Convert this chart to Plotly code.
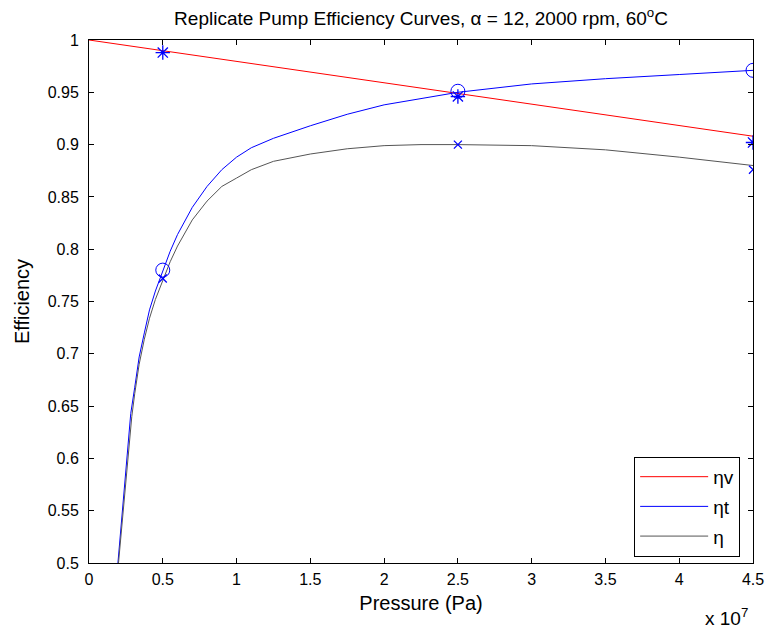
import plotly.graph_objects as go

# Model curves
pressure_t = [0.196e7, 0.283e7, 0.31e7, 0.34e7, 0.375e7, 0.41e7, 0.45e7, 0.5e7,
              0.55e7, 0.6e7, 0.7e7, 0.8e7, 0.9e7, 1.0e7, 1.1e7, 1.25e7, 1.5e7,
              1.75e7, 2.0e7, 2.25e7, 2.5e7, 3.0e7, 3.5e7, 4.0e7, 4.5e7]
eta_t_curve = [0.500, 0.643, 0.668, 0.697, 0.720, 0.742, 0.760, 0.780,
               0.798, 0.814, 0.840, 0.860, 0.876, 0.888, 0.897, 0.906, 0.918,
               0.929, 0.938, 0.944, 0.950, 0.958, 0.963, 0.967, 0.971]
pressure_e = [0.200e7, 0.290e7, 0.31e7, 0.34e7, 0.375e7, 0.41e7, 0.45e7, 0.5e7,
              0.55e7, 0.6e7, 0.7e7, 0.8e7, 0.9e7, 1.0e7, 1.1e7, 1.25e7, 1.5e7,
              1.75e7, 2.0e7, 2.25e7, 2.5e7, 3.0e7, 3.5e7, 4.0e7, 4.5e7]
eta_curve = [0.500, 0.640, 0.662, 0.690, 0.714, 0.734, 0.752, 0.770,
             0.788, 0.803, 0.828, 0.846, 0.860, 0.868, 0.876, 0.884, 0.891,
             0.896, 0.899, 0.900, 0.900, 0.899, 0.895, 0.888, 0.880]
pressure_v = [0.0, 4.5e7]
eta_v_curve = [1.000, 0.908]

# Measured points
pressure_meas = [0.5e7, 2.5e7, 4.5e7]
eta_t_meas = [0.780, 0.951, 0.971]
eta_v_meas = [0.988, 0.946, 0.902]
eta_meas = [0.772, 0.900, 0.876]

x_tickvals = [0, 0.5e7, 1e7, 1.5e7, 2e7, 2.5e7, 3e7, 3.5e7, 4e7, 4.5e7]
x_ticktext = ["0", "0.5", "1", "1.5", "2", "2.5", "3", "3.5", "4", "4.5"]
y_tickvals = [0.5, 0.55, 0.6, 0.65, 0.7, 0.75, 0.8, 0.85, 0.9, 0.95, 1.0]
y_ticktext = ["0.5", "0.55", "0.6", "0.65", "0.7", "0.75", "0.8", "0.85", "0.9", "0.95", "1"]

FONT = "Liberation Sans, Arial, sans-serif"

fig = go.Figure()
fig.add_trace(go.Scatter(x=pressure_v, y=eta_v_curve, mode="lines", name="ηv",
                         line=dict(color="#ff0000", width=1), legendgroup="a"))
fig.add_trace(go.Scatter(x=pressure_t, y=eta_t_curve, mode="lines", name="ηt",
                         line=dict(color="#0000ff", width=1), legendgroup="b"))
fig.add_trace(go.Scatter(x=pressure_e, y=eta_curve, mode="lines", name="η",
                         line=dict(color="#555555", width=1), legendgroup="c"))
fig.add_trace(go.Scatter(x=pressure_meas, y=eta_t_meas, mode="markers", showlegend=False,
                         marker=dict(symbol="circle-open", size=14, color="#0000ff",
                                     line=dict(width=1, color="#0000ff"))))
fig.add_trace(go.Scatter(x=pressure_meas, y=eta_v_meas, mode="markers", showlegend=False,
                         marker=dict(symbol="asterisk-open", size=12, color="#0000ff",
                                     line=dict(width=1.3, color="#0000ff"))))
fig.add_trace(go.Scatter(x=pressure_meas, y=eta_meas, mode="markers", showlegend=False,
                         marker=dict(symbol="x-thin-open", size=8, color="#0000ff",
                                     line=dict(width=1.3, color="#0000ff"))))

axis_common = dict(showline=True, linecolor="black", linewidth=1, mirror="ticks",
                   ticks="inside", ticklen=5, tickcolor="black", showgrid=False,
                   zeroline=False, automargin=False,
                   tickfont=dict(family=FONT, size=16, color="black"))

fig.update_layout(
    width=771, height=631,
    paper_bgcolor="white", plot_bgcolor="white",
    margin=dict(l=89, r=18, t=40, b=68),
    font=dict(family=FONT, size=16, color="black"),
    title=dict(text="Replicate Pump Efficiency Curves, α = 12, 2000 rpm, 60<sup>o</sup>C",
               x=0.5, xref="paper", y=1 - 18 / 631, yref="container",
               xanchor="center", yanchor="middle",
               font=dict(family=FONT, size=19, color="black")),
    xaxis=dict(range=[0, 4.5e7], tickvals=x_tickvals, ticktext=x_ticktext,
               ticklabelstandoff=2,
               title=dict(text="Pressure (Pa)", standoff=8,
                          font=dict(family=FONT, size=20)),
               **axis_common),
    yaxis=dict(range=[0.5, 1.0], tickvals=y_tickvals, ticktext=y_ticktext,
               ticklabelstandoff=6,
               title=dict(text="Efficiency", standoff=12,
                          font=dict(family=FONT, size=20)),
               **axis_common),
    legend=dict(x=0.821, y=0.203, xanchor="left", yanchor="top",
                bgcolor="white", bordercolor="black", borderwidth=1,
                font=dict(family=FONT, size=19, color="black"),
                traceorder="grouped", tracegroupgap=2, itemwidth=68),
    showlegend=True,
)

fig.add_annotation(text="x 10<sup>7</sup>", xref="paper", yref="paper",
                   x=0.995, y=-0.103, xanchor="right", yanchor="middle",
                   showarrow=False, font=dict(family=FONT, size=19, color="black"))

fig.write_html("out.html", config={"displayModeBar": False},
               post_script="document.body.style.margin='0';"
               "document.body.style.overflow='hidden';")
